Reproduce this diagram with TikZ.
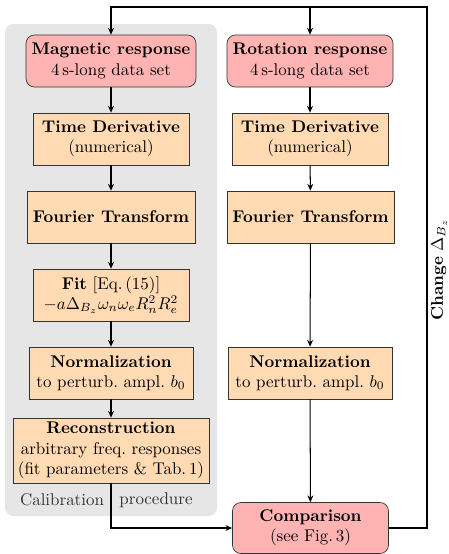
\documentclass[tikz,border=0pt]{standalone}
\usetikzlibrary{arrows.meta,positioning}
\definecolor{boxpink}{RGB}{255,179,179}
\definecolor{boxpeach}{RGB}{255,218,179}
\definecolor{calgray}{RGB}{230,230,230}
\tikzset{
  base/.style={draw=black!80, thin, align=center, inner sep=2pt},
  sz/.style 2 args={minimum width=#1*0.59pt, minimum height=#2*0.59pt},
  databox/.style={base, fill=boxpink, rounded corners=5pt},
  procbox/.style={base, fill=boxpeach},
  arr/.style={-{Stealth[length=4pt,width=3.5pt]}, line width=0.6pt},
  ln/.style={line width=0.6pt},
}
\begin{document}
\begin{tikzpicture}[x=0.59pt, y=-0.59pt]
\useasboundingbox (0,0) rectangle (449,554);
% calibration background
\fill[calgray, rounded corners=5pt] (5,24) rectangle (217,516);

% left column: magnetic response
\node[databox, sz={170}{52}] (mag) at (111,61) {\textbf{Magnetic response}\\4\,s-long data set};
\node[procbox, sz={156}{52}] (tdl) at (111,139) {\textbf{Time Derivative}\\(numerical)};
\node[procbox, sz={168}{52}] (ftl) at (111,217) {\textbf{Fourier Transform}};
\node[procbox, sz={156}{52}] (fit) at (111,295) {\textbf{Fit} [Eq.\,(15)]\\$-a\Delta_{B_z}\omega_n\omega_e R_n^2R_e^2$};
\node[procbox, sz={164}{52}] (nrl) at (111,373) {\textbf{Normalization}\\to perturb.\ ampl.\ $b_0$};
\node[procbox, sz={196}{65}] (rec) at (111,450.5) {\textbf{Reconstruction}\\arbitrary freq.\ responses\\(fit parameters \& Tab.\,1)};
\node[text=black!80] (cal) at (62,500) {Calibration};
\node[text=black!80] (proc) at (156,500) {procedure};

% right column: rotation response
\node[databox, sz={166}{52}] (rot) at (310,61) {\textbf{Rotation response}\\4\,s-long data set};
\node[procbox, sz={156}{52}] (tdr) at (310,139) {\textbf{Time Derivative}\\(numerical)};
\node[procbox, sz={167}{52}] (ftr) at (310.5,217) {\textbf{Fourier Transform}};
\node[procbox, sz={164}{52}] (nrr) at (310,373) {\textbf{Normalization}\\to perturb.\ ampl.\ $b_0$};
\node[databox, sz={156}{51}] (cmp) at (310.5,528) {\textbf{Comparison}\\(see Fig.\,3)};

% feedback loop
\coordinate (tr) at (427,7);
\node[rotate=90] (chg) at (439,270) {\textbf{Change} $\Delta_{B_z}$};

% connectors
\draw[arr] (mag) -- (tdl);
\draw[arr] (tdl) -- (ftl);
\draw[arr] (ftl) -- (fit);
\draw[arr] (fit) -- (nrl);
\draw[arr] (nrl) -- (rec);
\draw[arr] (rot) -- (tdr);
\draw[arr] (tdr) -- (ftr);
\draw[arr] (ftr) -- (nrr);
\draw[arr] (nrr) -- (cmp);
\draw[arr] (rec.south) |- (cmp.west);
\draw[arr] (cmp.east) -| (tr) -| (mag.north);
\draw[arr] (rot.north |- tr) -- (rot.north);
\end{tikzpicture}
\end{document}
